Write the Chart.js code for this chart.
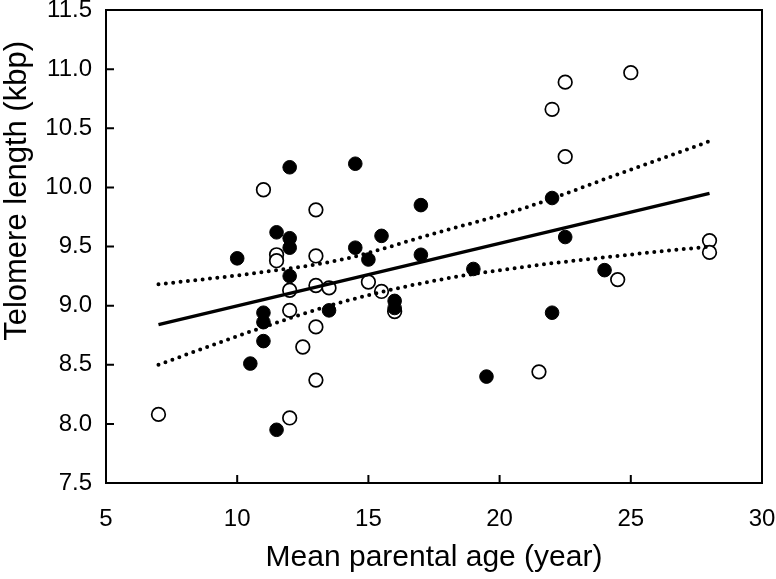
<!DOCTYPE html>
<html>
<head>
<meta charset="utf-8">
<script src="https://cdn.jsdelivr.net/npm/chart.js@4"></script>
<style>
  html, body { margin: 0; padding: 0; background: #fff; }
  #wrap { width: 776px; height: 579px; }
</style>
</head>
<body>
<div id="wrap"><canvas id="chart"></canvas></div>
<script>
// ----------------- Data -----------------
const filledX = [10, 10.5, 11, 11, 11, 11.5, 11.5, 12, 12, 12, 12, 13.5, 14.5, 14.5, 15, 15.5, 16, 16, 17, 17, 19, 19.5, 22, 22, 22.5, 24];
const filledY = [9.40, 8.51, 8.94, 8.86, 8.70, 9.62, 7.95, 10.17, 9.57, 9.49, 9.25, 8.96, 10.20, 9.49, 9.39, 9.59, 9.04, 8.98, 9.85, 9.43, 9.31, 8.40, 9.91, 8.94, 9.58, 9.30];

const openX = [7, 11, 11.5, 11.5, 12, 12, 12, 12.5, 13, 13, 13, 13, 13, 13.5, 15, 15.5, 16, 21.5, 22, 22.5, 22.5, 24.5, 25, 28, 28];
const openY = [8.08, 9.98, 9.43, 9.38, 9.13, 8.96, 8.05, 8.65, 9.81, 9.42, 9.17, 8.82, 8.37, 9.15, 9.20, 9.12, 8.95, 8.44, 10.66, 10.26, 10.89, 9.22, 10.97, 9.55, 9.45];

const fitX = [7, 28];
const fitY = [8.84, 9.95];

const ciX = [7, 10.5, 14, 17.5, 21, 24.5, 28];
const ciUpper = [9.18, 9.27, 9.39, 9.61, 9.83, 10.11, 10.39];
const ciLower = [8.50, 8.78, 9.03, 9.21, 9.33, 9.42, 9.50];

const xTicks = [5, 10, 15, 20, 25, 30];
const yTicks = [7.5, 8.0, 8.5, 9.0, 9.5, 10.0, 10.5, 11.0, 11.5];

const xTitle = 'Mean parental age (year)';
const yTitle = 'Telomere length (kbp)';

const toPoints = (xs, ys) => xs.map((x, i) => ({ x: x, y: ys[i] }));

const font = 'Arial, "Liberation Sans", sans-serif';

// ----------------- Frame, inward ticks, y title -----------------
const framePlugin = {
    id: 'frame',
    afterDraw(chart) {
        const { ctx, chartArea: a, scales } = chart;
        ctx.save();
        ctx.strokeStyle = '#000';
        ctx.lineWidth = 2;
        ctx.strokeRect(a.left, a.top, a.right - a.left, a.bottom - a.top);
        const len = 8;
        ctx.beginPath();
        xTicks.forEach(v => {
            const px = scales.x.getPixelForValue(v);
            ctx.moveTo(px, a.bottom);
            ctx.lineTo(px, a.bottom - len);
        });
        yTicks.forEach(v => {
            const py = scales.y.getPixelForValue(v);
            ctx.moveTo(a.left, py);
            ctx.lineTo(a.left + len, py);
        });
        ctx.stroke();

        // y title sits a bit above the middle of the axis in the original
        ctx.translate(17, scales.y.getPixelForValue(9.97));
        ctx.rotate(-Math.PI / 2);
        ctx.fillStyle = '#000';
        ctx.font = '31px ' + font;
        ctx.textAlign = 'center';
        ctx.textBaseline = 'middle';
        ctx.fillText(yTitle, 0, 0);
        ctx.restore();
    }
};

new Chart(document.getElementById('chart'), {
    type: 'scatter',
    data: {
        datasets: [
            {
                label: 'filled',
                data: toPoints(filledX, filledY),
                pointRadius: 6.8,
                pointBackgroundColor: '#000',
                pointBorderColor: '#000',
                pointBorderWidth: 1
            },
            {
                label: 'fit',
                type: 'line',
                data: toPoints(fitX, fitY),
                borderColor: '#000',
                borderWidth: 3.3,
                pointRadius: 0,
                fill: false
            },
            {
                label: 'upper',
                type: 'line',
                data: toPoints(ciX, ciUpper),
                borderColor: '#000',
                borderWidth: 4,
                borderDash: [0, 7.4],
                borderCapStyle: 'round',
                cubicInterpolationMode: 'monotone',
                pointRadius: 0,
                fill: false
            },
            {
                label: 'lower',
                type: 'line',
                data: toPoints(ciX, ciLower),
                borderColor: '#000',
                borderWidth: 4,
                borderDash: [0, 7.4],
                borderCapStyle: 'round',
                cubicInterpolationMode: 'monotone',
                pointRadius: 0,
                fill: false
            },
            {
                label: 'open',
                data: toPoints(openX, openY),
                pointRadius: 6.8,
                pointBackgroundColor: '#fff',
                pointBorderColor: '#000',
                pointBorderWidth: 1.7
            }
        ]
    },
    options: {
        responsive: true,
        maintainAspectRatio: false,
        animation: false,
        layout: { padding: { top: 10, right: 14, left: 0, bottom: 0 } },
        plugins: {
            legend: { display: false },
            tooltip: { enabled: false }
        },
        scales: {
            x: {
                type: 'linear',
                min: 5,
                max: 30,
                afterBuildTicks: s => { s.ticks = xTicks.map(v => ({ value: v })); },
                afterFit: s => { s.height = 96; s.paddingLeft = 0; s.paddingRight = 0; },
                grid: { display: false, drawTicks: false },
                border: { display: false },
                ticks: {
                    color: '#000',
                    padding: 22,
                    maxRotation: 0,
                    font: { family: font, size: 24 }
                },
                title: {
                    display: true,
                    text: xTitle,
                    color: '#000',
                    font: { family: font, size: 30 },
                    padding: { top: 0, bottom: 3 }
                }
            },
            y: {
                type: 'linear',
                min: 7.5,
                max: 11.5,
                afterBuildTicks: s => { s.ticks = yTicks.map(v => ({ value: v })); },
                afterFit: s => { s.width = 106; s.paddingTop = 0; s.paddingBottom = 0; },
                grid: { display: false, drawTicks: false },
                border: { display: false },
                ticks: {
                    color: '#000',
                    padding: 14,
                    font: { family: font, size: 24 },
                    callback: v => v.toFixed(1)
                },
                title: { display: false }
            }
        }
    },
    plugins: [framePlugin]
});
</script>
</body>
</html>
